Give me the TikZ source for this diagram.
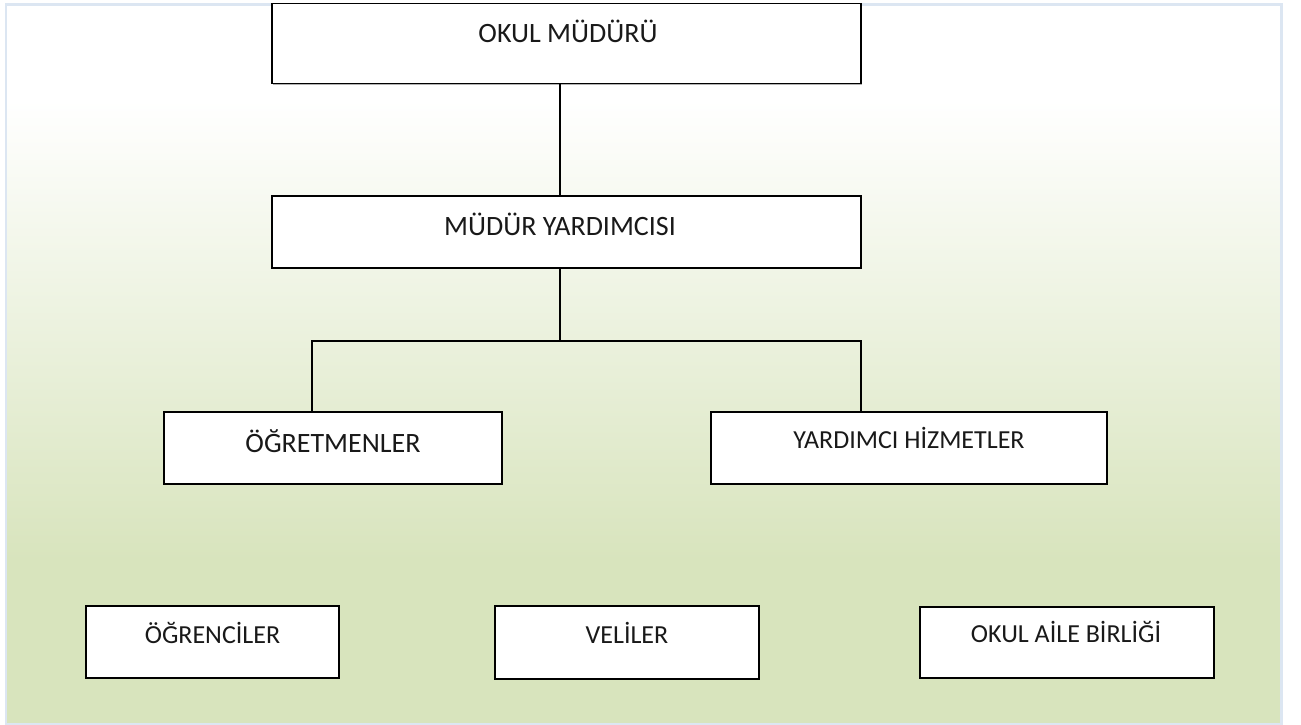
\documentclass[tikz,border=0pt]{standalone}
\usepackage{fontspec}
\setmainfont{Carlito}
\usetikzlibrary{shadows}
\definecolor{framecol}{HTML}{DCE6F2}
\definecolor{olivebg}{HTML}{D8E4BD}
\begin{document}
\begin{tikzpicture}[x=1pt,y=-1pt,
  box/.style={draw=black, line width=1.6pt, fill=white, inner sep=0pt,
    drop shadow={shadow xshift=1.4pt, shadow yshift=-1.4pt, fill=black!60, opacity=0.5}},
  lbl/.style={inner sep=0pt, anchor=base, text=black!90},
  conn/.style={line width=1.4pt, draw=black}]
\useasboundingbox (0,0) rectangle (1301,725);
% background
\fill[white] (0,0) rectangle (1301,725);
\fill[white] (5,3) rectangle (1282,100);
\shade[top color=white, bottom color=olivebg] (5,100) rectangle (1282,560);
\fill[olivebg] (5,560) rectangle (1282,724);
\draw[framecol, line width=2.5pt] (6,4.5) rectangle (1281.5,724);
% boxes
\node[box, minimum width=589pt, minimum height=80pt] (okm) at (566.5,43.5) {};
\node[box, minimum width=589pt, minimum height=72pt] (my) at (566.5,232) {};
\node[box, minimum width=338pt, minimum height=72pt] (ogr) at (333,448) {};
\node[box, minimum width=396pt, minimum height=72pt] (yh) at (909,448) {};
\node[box, minimum width=253pt, minimum height=72pt] (ogc) at (212.5,642) {};
\node[box, minimum width=264pt, minimum height=73pt] (vel) at (627,642.5) {};
\node[box, minimum width=294pt, minimum height=71pt] (oab) at (1067,642.5) {};
% labels
\node[lbl, font=\fontsize{28}{32}\selectfont] (tokm) at (568,43) {OKUL MÜDÜRÜ};
\node[lbl, font=\fontsize{28}{32}\selectfont] (tmy) at (560,235) {MÜDÜR YARDIMCISI};
\node[lbl, font=\fontsize{28}{32}\selectfont] (togr) at (333,452) {ÖĞRETMENLER};
\node[lbl, font=\fontsize{26}{30}\selectfont] (tyh) at (909,448.5) {YARDIMCI HİZMETLER};
\node[lbl, font=\fontsize{26}{30}\selectfont] (togc) at (212.5,643.5) {ÖĞRENCİLER};
\node[lbl, font=\fontsize{26}{30}\selectfont] (tvel) at (627,643.5) {VELİLER};
\node[lbl, font=\fontsize{26}{30}\selectfont] (toab) at (1066,642.5) {OKUL AİLE BİRLİĞİ};
% connectors
\coordinate (j) at (560,341);
\coordinate (jl) at (312,341);
\coordinate (jr) at (861,341);
\draw[conn] (okm.south -| j) -- (my.north -| j);
\draw[conn] (my.south -| j) -- (j);
\draw[conn] (ogr.north -| jl) -- (jl) -- (jr) -- (yh.north -| jr);
\end{tikzpicture}
\end{document}
